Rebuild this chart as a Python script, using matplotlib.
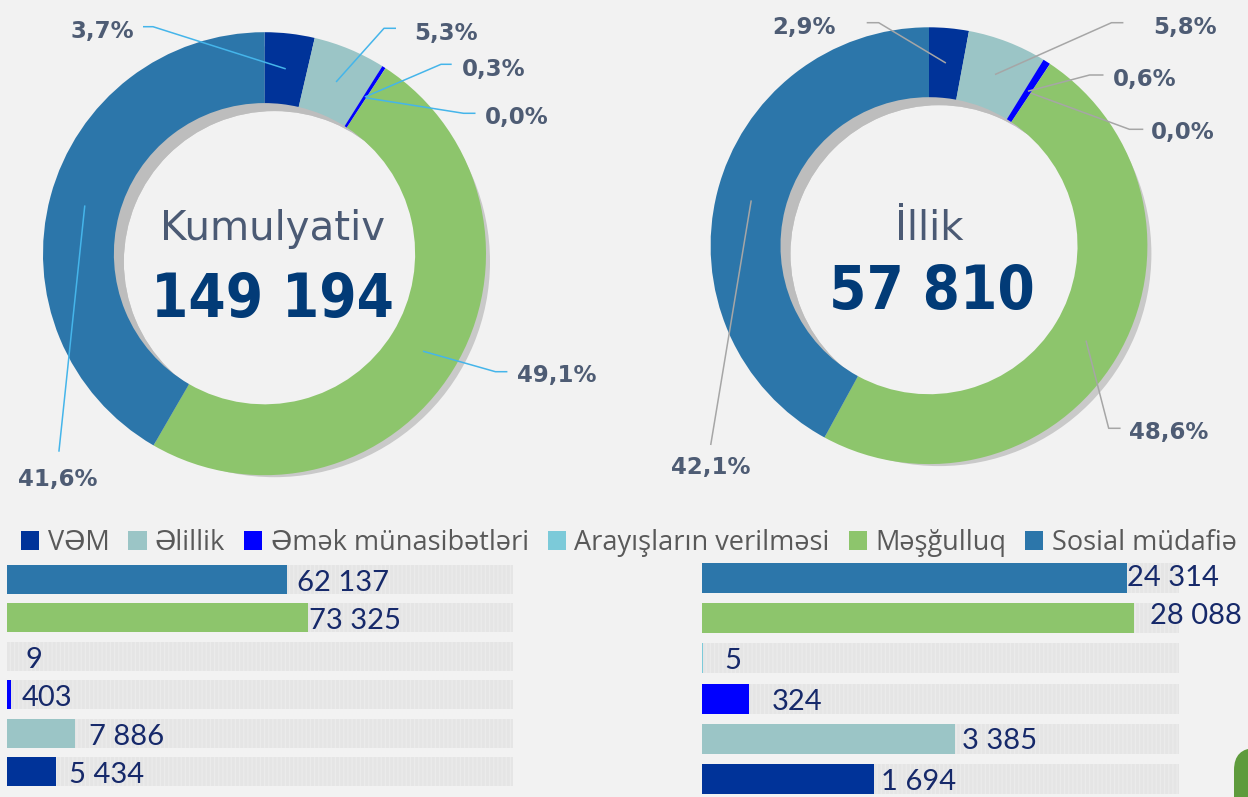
import numpy as np
import matplotlib.pyplot as plt
from matplotlib.patches import Patch, Wedge, FancyBboxPatch

W, H = 1248, 797

# Categories (pie order, clockwise from 12 o'clock; bar order bottom to top)
categories = ["VƏM", "Əlillik", "Əmək münasibətləri", "Arayışların verilməsi",
              "Məşğulluq", "Sosial müdafiə"]
colors = ["#003399", "#9bc5c6", "#0000ff", "#7ccad9", "#8dc56c", "#2c76aa"]

cumulative = [5434, 7886, 403, 9, 73325, 62137]
annual = [1694, 3385, 324, 5, 28088, 24314]
cumulative_pct = ["3,7%", "5,3%", "0,3%", "0,0%", "49,1%", "41,6%"]
annual_pct = ["2,9%", "5,8%", "0,6%", "0,0%", "48,6%", "42,1%"]
titles = ["Kumulyativ", "İllik"]

BG = "#f2f2f2"
LABEL_C = "#4e5c74"
VALUE_C = "#16296a"


def fmt(n):
    return f"{n:,}".replace(",", " ")


def up(y):
    # image rows run downwards, the axes run upwards
    return H - y


fig = plt.figure(figsize=(W / 100, H / 100), dpi=100, facecolor=BG)
ax = fig.add_axes([0, 0, 1, 1])
ax.set_facecolor(BG)

# donut layouts: centre, outer radius, label boxes and leader elbows (pixels)
donuts = [
    dict(values=cumulative, pct=cumulative_pct, title=titles[0],
         cx=264.5, cy=253.7, r=221.5, line="#45b5ea",
         title_xy=(272.5, 240), total_xy=(272.5, 317),
         text=[(70.8, 29), (414, 30.7), (461.6, 66.7), (484.7, 115),
               (516.5, 373.3), (18, 476.7)],
         tail=[(143, 26.7), (396, 28.3), (451.7, 64.3), (475.5, 113.3),
               (507.4, 371.7), (58.9, 451.7)],
         elbow=[(153, 26.7), (384, 28.3), (441, 64.3), (463.6, 113.3),
                (495.4, 371.7), (58.9, 451.7)]),
    dict(values=annual, pct=annual_pct, title=titles[1],
         cx=929, cy=245.7, r=218.4, line="#a6a6a6",
         title_xy=(929, 240), total_xy=(931.5, 309),
         text=[(772, 25), (1153, 25), (1112.7, 77.3), (1151, 130),
               (1128.6, 430), (671, 465)],
         tail=[(866.7, 22.7), (1123.4, 22.7), (1103.5, 75), (1143.3, 129.3),
               (1120.6, 428.3), (710.7, 445)],
         elbow=[(878.7, 22.7), (1111.5, 22.7), (1089.6, 75), (1129.4, 129.3),
                (1108.7, 428.3), (710.7, 445)]),
]

RING = 0.32
for d in donuts:
    cx, cy, r = d["cx"], up(d["cy"]), d["r"]
    r_in = r * (1 - RING)
    # drop shadow under the ring: wide inside the hole, thin outside
    ax.add_patch(Wedge((cx + 10, cy - 8), r - 6, 0, 360, width=r - 6 - r_in,
                       facecolor="#c9c9c9", edgecolor="none", zorder=1))
    ax.add_patch(Wedge((cx + 10, cy - 8), r_in + 14, 0, 360, width=14,
                       facecolor="#bdbdbd", edgecolor="none", zorder=1))
    wedges, _ = ax.pie(d["values"], colors=colors, startangle=90,
                       counterclock=False, radius=r, center=(cx, cy),
                       wedgeprops=dict(width=r * RING, linewidth=0))
    for w in wedges:
        w.set_zorder(2)

    r_mid = r * (1 - RING / 2)
    for w, label, (tx, ty), (ex, ey), (bx, by) in zip(
            wedges, d["pct"], d["text"], d["tail"], d["elbow"]):
        ang = np.deg2rad((w.theta1 + w.theta2) / 2)
        px, py = cx + r_mid * np.cos(ang), cy + r_mid * np.sin(ang)
        ax.plot([ex, bx, px], [up(ey), up(by), py], color=d["line"],
                lw=1.1, zorder=3, solid_capstyle="butt")
        ax.text(tx, up(ty), label, ha="left", va="center_baseline",
                fontsize=16.5, fontweight="bold", family="DejaVu Sans",
                color=LABEL_C, zorder=4)

    ax.text(d["title_xy"][0], up(d["title_xy"][1]), d["title"],
            ha="center", va="baseline", fontsize=29,
            family="DejaVu Sans", color="#4b5a74", zorder=4)
    ax.text(d["total_xy"][0], up(d["total_xy"][1]), fmt(sum(d["values"])),
            ha="center", va="baseline", fontsize=43, fontweight="bold",
            fontstretch="condensed", family="DejaVu Sans", color="#023b77",
            zorder=4)

# corner decoration
ax.add_patch(FancyBboxPatch((1234, up(748) - 90), 60, 90,
                            boxstyle="round,pad=0,rounding_size=22",
                            facecolor="#5e9b3c", edgecolor="none"))

ax.set_xlim(0, W)
ax.set_ylim(0, H)
ax.axis("off")

# legend row
handles = [Patch(facecolor=c, edgecolor="none") for c in colors]
fig.legend(handles, categories, loc="center left",
           bbox_to_anchor=(21 / W, 1 - 543 / H), ncol=6, frameon=False,
           handlelength=0.68, handleheight=0.68,
           handletextpad=0.3, columnspacing=0.7, borderpad=0,
           borderaxespad=0, labelcolor="#595959",
           prop=dict(family=["Open Sans", "DejaVu Sans"], size=19.5))


def saturating(c):
    def fwd(v):
        v = np.asarray(v, dtype=float)
        return v / (v + c)

    def inv(u):
        u = np.asarray(u, dtype=float)
        with np.errstate(divide="ignore", invalid="ignore"):
            return c * u / (1 - u)
    return fwd, inv


plt.rcParams["hatch.linewidth"] = 1.0

# bar panels: axes rect in pixels, scale knee, scale max, row height, label gaps
panels = [
    dict(values=cumulative, rect=(7, 560.3, 506, 230.4), knee=52000,
         vmax=2.9e6, height=0.755,
         gap=[13, 14, 11, 18, 1, 10], dy=[1, 1, 1, 1, 1, 1]),
    dict(values=annual, rect=(702, 557.9, 477, 241.2), knee=3000,
         vmax=1.5e6, height=0.746,
         gap=[7, 7, 23, 22, 16, 0], dy=[1, 0, 1, 0, -5, -3]),
]

for p in panels:
    x0, y0, w, h = p["rect"]
    bax = fig.add_axes([x0 / W, (H - y0 - h) / H, w / W, h / H])
    bax.set_xscale("function", functions=saturating(p["knee"]))
    bax.set_xlim(0, p["vmax"])
    bax.set_ylim(-0.5, len(categories) - 0.5)
    ypos = np.arange(len(categories))
    bax.barh(ypos, p["vmax"], height=p["height"], color="#e5e5e5",
             edgecolor="#ebebeb", linewidth=0, hatch="||||")
    bax.barh(ypos, p["values"], height=p["height"], color=colors, linewidth=0)
    for yi, v, g, dy in zip(ypos, p["values"], p["gap"], p["dy"]):
        bax.annotate(fmt(v), xy=(v, yi), xytext=(g * 0.72, -dy * 0.72),
                     textcoords="offset points", ha="left",
                     va="center_baseline", fontsize=21, family="Lato",
                     color=VALUE_C, annotation_clip=False)
    bax.axis("off")

fig.savefig("out.png", dpi=100, facecolor=BG)
